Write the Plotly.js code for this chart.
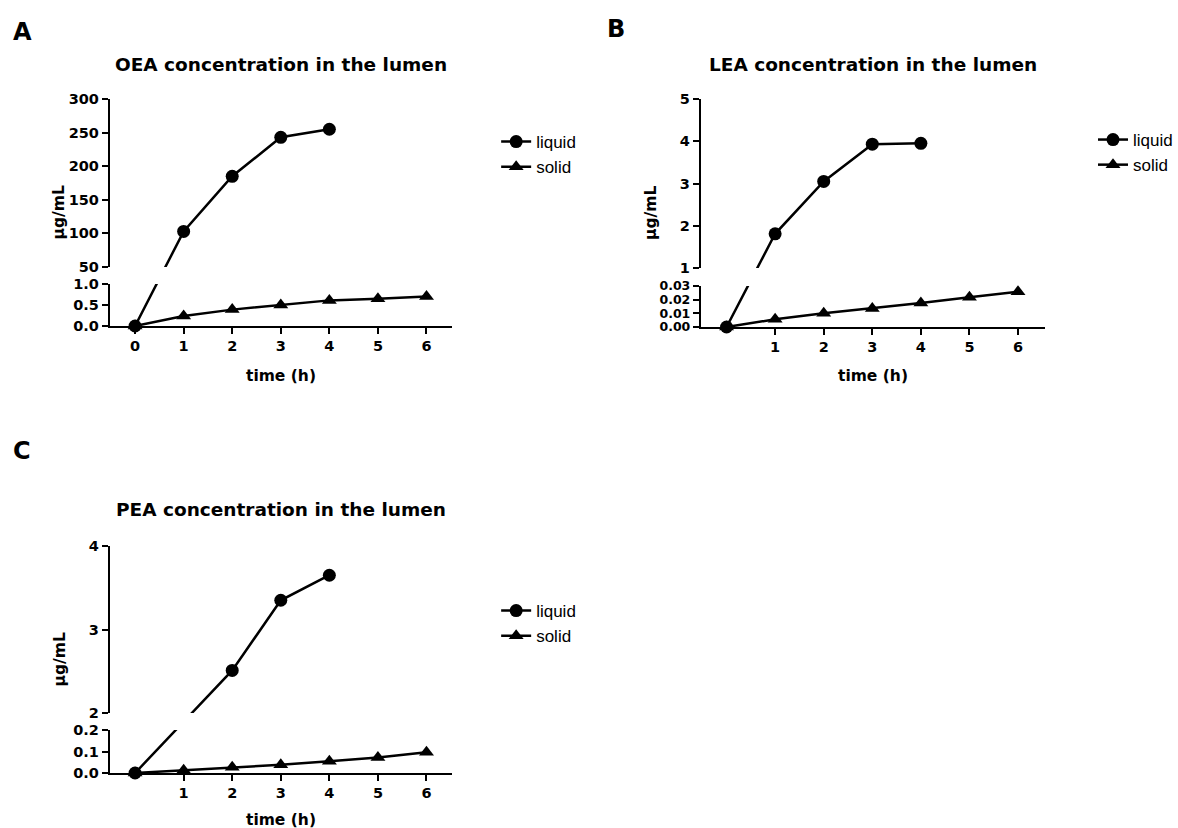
<!DOCTYPE html>
<html>
<head>
<meta charset="utf-8">
<script src="https://cdn.plot.ly/plotly-3.0.1.min.js"></script>
<style>html,body{margin:0;padding:0;background:#fff}</style>
</head>
<body>
<div id="chart" style="width:1178px;height:828px"></div>
<script>
// ---------------- data ----------------
const hoursAll = [0, 1, 2, 3, 4, 5, 6];

const oeaLiquidHours = [0, 1, 2, 3, 4];
const oeaLiquid = [0, 103, 185, 243, 255];
const oeaSolid = [0, 0.24, 0.39, 0.50, 0.61, 0.65, 0.70];

const leaLiquidHours = [0, 1, 2, 3, 4];
const leaLiquid = [0, 1.81, 3.05, 3.93, 3.95];
const leaSolid = [0, 0.0056, 0.0100, 0.0135, 0.0175, 0.0217, 0.0258];

const peaLiquidHours = [0, 2, 3, 4];
const peaLiquid = [0, 2.51, 3.35, 3.65];
const peaSolid = [0, 0.013, 0.027, 0.038, 0.055, 0.072, 0.096];

const panelLetters = ['A', 'B', 'C'];
const panelTitles = ['OEA concentration in the lumen', 'LEA concentration in the lumen', 'PEA concentration in the lumen'];
const seriesNames = ['liquid', 'solid'];
const xTickValsA = [0, 1, 2, 3, 4, 5, 6];
const xTickValsBC = [1, 2, 3, 4, 5, 6];
const xLabel = 'time (h)';
const yLabel = 'µg/mL';

// ---------------- layout geometry (pixels in a 1178x828 page) ----------------
const W = 1178, H = 828;
const fx = p => p / W;
const fy = p => 1 - p / H;

const BOLD = {family: 'DejaVu Sans, Arial, sans-serif', color: '#000', weight: 'bold'};
const REG = {family: 'Liberation Sans, Arial, sans-serif', color: '#000'};

const panels = [
  {
    liqX: oeaLiquidHours, liqY: oeaLiquid, solY: oeaSolid, xticks: xTickValsA,
    xpx: [110, 453], xrange: [-0.52, 6.53],
    up: {px: [99, 267], range: [50, 300], dtick: 50, fmt: '', fs: 14.5},
    low: {px: [284, 326], range: [0, 1], dtick: 0.5, fmt: '.1f', fs: 14.5},
    letter: {x: 11, y: 32}, titleY: 64, xLabY: 376, yLabX: 60, legend: {x: 497, y: 124}
  },
  {
    liqX: leaLiquidHours, liqY: leaLiquid, solY: leaSolid, xticks: xTickValsBC,
    xpx: [702, 1047], xrange: [-0.53, 6.56],
    up: {px: [99, 268], range: [1, 5], dtick: 1, fmt: '', fs: 14.5},
    low: {px: [286, 327], range: [0, 0.03], dtick: 0.01, fmt: '.2f', fs: 12.5},
    letter: {x: 606, y: 29}, titleY: 64, xLabY: 376, yLabX: 652, legend: {x: 1095, y: 122}
  },
  {
    liqX: peaLiquidHours, liqY: peaLiquid, solY: peaSolid, xticks: xTickValsBC,
    xpx: [110, 453], xrange: [-0.52, 6.53],
    up: {px: [546, 713], range: [2, 4], dtick: 1, fmt: '', fs: 14.5},
    low: {px: [730, 773], range: [0, 0.2], dtick: 0.1, fmt: '.1f', fs: 14.5},
    letter: {x: 11, y: 451}, titleY: 510, xLabY: 820, yLabX: 60, legend: {x: 497, y: 593}
  }
];

// pixel position of a value on the broken axis, then value on a given segment axis
function pixelOf(v, p) {
  const seg = v <= p.low.range[1] ? p.low : p.up;
  return seg.px[1] - (v - seg.range[0]) / (seg.range[1] - seg.range[0]) * (seg.px[1] - seg.px[0]);
}
function onSegment(v, p, seg) {
  const pix = pixelOf(v, p);
  return seg.range[0] + (seg.px[1] - pix) / (seg.px[1] - seg.px[0]) * (seg.range[1] - seg.range[0]);
}

const traces = [];
const layout = {
  width: W, height: H,
  margin: {l: 0, r: 0, t: 0, b: 0},
  paper_bgcolor: '#fff', plot_bgcolor: 'rgba(0,0,0,0)',
  showlegend: true,
  annotations: []
};

const axisCommon = {
  showline: true, linewidth: 2, linecolor: '#000',
  ticks: 'outside', ticklen: 6, tickwidth: 2, tickcolor: '#000',
  showgrid: false, zeroline: false, fixedrange: true
};
const tickFont = s => Object.assign({size: s}, BOLD);

const lineStyle = {color: '#000', width: 2.5};
const circleMk = {symbol: 'circle', size: 13, color: '#000'};
const triMk = {symbol: 'triangle-up', size: 13, color: '#000'};

panels.forEach((p, i) => {
  const xid = i === 0 ? 'x' : 'x' + (i + 1);
  const lowN = 2 * i + 1, upN = 2 * i + 2;
  const lowId = lowN === 1 ? 'y' : 'y' + lowN;
  const upId = 'y' + upN;
  const legKey = i === 0 ? 'legend' : 'legend' + (i + 1);

  layout[i === 0 ? 'xaxis' : 'xaxis' + (i + 1)] = Object.assign({}, axisCommon, {
    domain: [fx(p.xpx[0]), fx(p.xpx[1])], range: p.xrange, anchor: lowId,
    tickmode: 'array', tickvals: p.xticks, tickfont: tickFont(14.5)
  });
  layout[lowN === 1 ? 'yaxis' : 'yaxis' + lowN] = Object.assign({}, axisCommon, {
    domain: [fy(p.low.px[1]), fy(p.low.px[0])], range: p.low.range, anchor: xid,
    tick0: 0, dtick: p.low.dtick, tickformat: p.low.fmt, tickfont: tickFont(p.low.fs)
  });
  layout['yaxis' + upN] = Object.assign({}, axisCommon, {
    domain: [fy(p.up.px[1]), fy(p.up.px[0])], range: p.up.range, anchor: xid,
    tick0: 0, dtick: p.up.dtick, tickformat: p.up.fmt, tickfont: tickFont(p.up.fs)
  });

  // liquid on upper segment (lines + markers, clipped)
  traces.push({
    type: 'scatter', mode: 'lines+markers', name: seriesNames[0], legend: legKey,
    x: p.liqX, y: p.liqY.map(v => onSegment(v, p, p.up)),
    xaxis: xid, yaxis: upId, cliponaxis: true,
    line: lineStyle, marker: circleMk, hoverinfo: 'skip'
  });
  // liquid line across lower segment (clipped)
  traces.push({
    type: 'scatter', mode: 'lines', showlegend: false,
    x: p.liqX, y: p.liqY.map(v => onSegment(v, p, p.low)),
    xaxis: xid, yaxis: lowId, cliponaxis: true, line: lineStyle, hoverinfo: 'skip'
  });
  // liquid markers located on lower segment
  traces.push({
    type: 'scatter', mode: 'markers', showlegend: false,
    x: p.liqX, y: p.liqY.map(v => v <= p.low.range[1] ? v : null),
    xaxis: xid, yaxis: lowId, cliponaxis: false, marker: circleMk, hoverinfo: 'skip'
  });
  // solid
  traces.push({
    type: 'scatter', mode: 'lines+markers', name: seriesNames[1], legend: legKey,
    x: hoursAll, y: p.solY, xaxis: xid, yaxis: lowId, cliponaxis: false,
    line: lineStyle, marker: triMk, hoverinfo: 'skip'
  });

  layout[legKey] = {
    x: fx(p.legend.x), y: fy(p.legend.y), xanchor: 'left', yanchor: 'top',
    bgcolor: 'rgba(0,0,0,0)', borderwidth: 0,
    font: Object.assign({size: 17}, REG), itemwidth: 30, traceorder: 'normal'
  };

  const xc = (p.xpx[0] + p.xpx[1]) / 2;
  layout.annotations.push(
    {text: panelLetters[i], xref: 'paper', yref: 'paper', x: fx(p.letter.x), y: fy(p.letter.y),
     xanchor: 'left', yanchor: 'middle', showarrow: false, font: Object.assign({size: 24}, BOLD)},
    {text: panelTitles[i], xref: 'paper', yref: 'paper', x: fx(xc), y: fy(p.titleY),
     xanchor: 'center', yanchor: 'middle', showarrow: false, font: Object.assign({size: 18.5}, BOLD)},
    {text: xLabel, xref: 'paper', yref: 'paper', x: fx(xc), y: fy(p.xLabY),
     xanchor: 'center', yanchor: 'middle', showarrow: false, font: Object.assign({size: 15.5}, BOLD)},
    {text: yLabel, xref: 'paper', yref: 'paper', x: fx(p.yLabX), y: fy((p.up.px[0] + p.low.px[1]) / 2),
     xanchor: 'center', yanchor: 'middle', textangle: -90, showarrow: false, font: Object.assign({size: 15.5}, BOLD)}
  );
});

Plotly.newPlot('chart', traces, layout, {staticPlot: true, displayModeBar: false});
</script>
</body>
</html>
